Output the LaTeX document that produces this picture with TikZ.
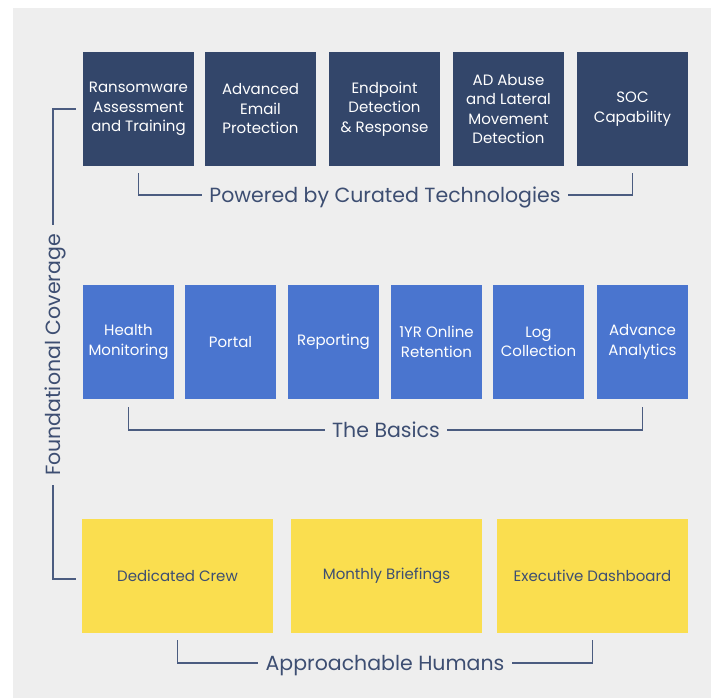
\documentclass[tikz,border=0pt]{standalone}
\usepackage{fontspec}
\setmainfont{Poppins}

\definecolor{bggray}{HTML}{EEEEEE}
\definecolor{navy}{HTML}{33466A}
\definecolor{midblue}{HTML}{4A75CF}
\definecolor{sunny}{HTML}{FADE4F}
\definecolor{inkblue}{HTML}{3D4E72}
\definecolor{rulecol}{HTML}{4B5C80}

\begin{document}
\begin{tikzpicture}[x=1pt, y=-1pt,
  boxtext/.style={font=\fontsize{15}{19.5}\selectfont, align=center, inner sep=0pt},
  techbox/.style={boxtext, fill=navy, text=white, minimum width=111pt, minimum height=114pt},
  basicbox/.style={boxtext, fill=midblue, text=white, minimum width=91pt, minimum height=114pt},
  humanbox/.style={boxtext, fill=sunny, text=inkblue, minimum width=191pt, minimum height=114pt},
  grouplabel/.style={font=\fontsize{20.5}{24}\selectfont, text=inkblue, inner sep=7pt,
    text height=14pt, text depth=0pt},
  bracket/.style={draw=rulecol, line width=1.1pt}]

  % Page and background
  \useasboundingbox (0,0) rectangle (715,698);
  \fill[bggray] (13,8) rectangle (711,698);

  % Curated technologies
  \node[techbox] (t1) at (138.5,109) {Ransomware\\Assessment\\and Training};
  \node[techbox] (t2) at (260.5,109) {Advanced\\Email\\Protection};
  \node[techbox] (t3) at (384.5,109) {Endpoint\\Detection\\\& Response};
  \node[techbox] (t4) at (508.5,109) {AD Abuse\\and Lateral\\Movement\\Detection};
  \node[techbox] (t5) at (632.5,109) {SOC\\Capability};

  \node[grouplabel] (powered) at (385,195) {Powered by Curated Technologies};
  \draw[bracket] ([yshift=-7pt]t1.south) |- (powered.west);
  \draw[bracket] ([yshift=-7pt]t5.south) |- (powered.east);

  % The basics
  \node[basicbox] (b1) at (128.5,342) {Health\\Monitoring};
  \node[basicbox] (b2) at (230.5,342) {Portal};
  \node[basicbox] (b3) at (333.5,342) {Reporting};
  \node[basicbox] (b4) at (436.5,342) {1YR Online\\Retention};
  \node[basicbox] (b5) at (538.5,342) {Log\\Collection};
  \node[basicbox] (b6) at (642.5,342) {Advance\\Analytics};

  \node[grouplabel] (basics) at (386,430) {The Basics};
  \draw[bracket] ([yshift=-8pt]b1.south) |- (basics.west);
  \draw[bracket] ([yshift=-8pt]b6.south) |- (basics.east);

  % Approachable humans
  \node[humanbox] (h1) at (177.5,576) {Dedicated Crew};
  \node[humanbox] (h2) at (386.5,576) {Monthly Briefings};
  \node[humanbox] (h3) at (592.5,576) {Executive Dashboard};

  \node[grouplabel] (humans) at (385,663) {Approachable Humans};
  \draw[bracket] ([yshift=-7pt]h1.south) |- (humans.west);
  \draw[bracket] ([yshift=-7pt]h3.south) |- (humans.east);

  % Foundational coverage
  \node[grouplabel, rotate=90, inner sep=9pt] (found) at (53,355) {Foundational Coverage};
  \draw[bracket] (found.east) |- ([xshift=-7pt]t1.west);
  \draw[bracket] (found.west) |- ([xshift=-6pt, yshift=-3pt]h1.west);
\end{tikzpicture}
\end{document}
